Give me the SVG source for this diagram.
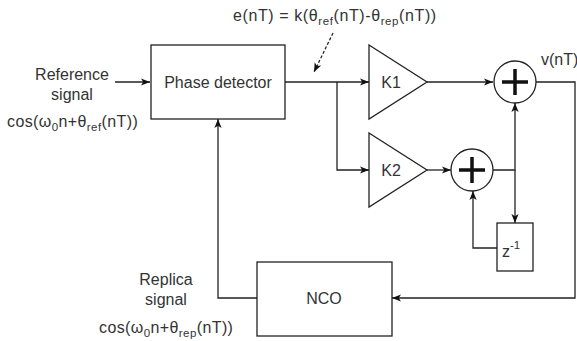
<svg xmlns="http://www.w3.org/2000/svg" width="577" height="341" viewBox="0 0 577 341">
<style>
.ln{fill:none;stroke:#222;stroke-width:1.3}
.box{fill:#fff;stroke:#222;stroke-width:1.3}
.t{font-family:"Liberation Sans",Arial,sans-serif;font-size:16px;fill:#333}
.c{text-anchor:middle}
.f{letter-spacing:0.4px}
.plus{stroke:#111;stroke-width:3.5;fill:none}
</style>
<defs>
<marker id="arr" viewBox="0 0 10 10" refX="10" refY="5" markerWidth="9" markerHeight="9" markerUnits="userSpaceOnUse" orient="auto">
<path d="M0,1 L10,5 L0,9 L2.5,5 z" fill="#111"/>
</marker>
</defs>
<rect width="577" height="341" fill="#fff"/>
<g id="connectors">
<path class="ln" d="M115,82 H150" marker-end="url(#arr)"/>
<path class="ln" d="M285,82 H369" marker-end="url(#arr)"/>
<path class="ln" d="M337,82 V170 H369" marker-end="url(#arr)"/>
<path class="ln" d="M427,82 H493" marker-end="url(#arr)"/>
<path class="ln" d="M427,170 H451" marker-end="url(#arr)"/>
<path class="ln" d="M493,170 H515 V103" marker-end="url(#arr)"/>
<path class="ln" d="M515,170 V223" marker-end="url(#arr)"/>
<path class="ln" d="M497,248 H473 V191" marker-end="url(#arr)"/>
<path class="ln" d="M536,82 H575 V298 H392" marker-end="url(#arr)"/>
<path class="ln" d="M257,298 H218 V119" marker-end="url(#arr)"/>
<path class="ln" d="M333,33 L314,72" stroke-dasharray="3,2" marker-end="url(#arr)"/>
</g>
<g id="ref-label">
<text class="t c" x="72" y="80">Reference</text>
<text class="t c" x="72" y="100">signal</text>
<text class="t f" x="7" y="127">cos(ω<tspan font-size="11.5" dy="4">0</tspan><tspan dy="-4">n+θ</tspan><tspan font-size="11.5" dy="4">ref</tspan><tspan dy="-4">(nT))</tspan></text>
</g>
<g id="error-label">
<text class="t f" x="233" y="21" style="letter-spacing:0.6px">e(nT) = k(θ<tspan font-size="11.5" dy="4">ref</tspan><tspan dy="-4">(nT)-θ</tspan><tspan font-size="11.5" dy="4">rep</tspan><tspan dy="-4">(nT))</tspan></text>
</g>
<g id="phase-detector">
<rect class="box" x="151" y="45" width="134" height="74"/>
<text class="t c" x="218" y="88">Phase detector</text>
</g>
<g id="k1">
<path class="box" d="M369,45 L427,82 L369,119 Z"/>
<text class="t c" x="391" y="88">K1</text>
</g>
<g id="k2">
<path class="box" d="M369,133 L427,170 L369,207 Z"/>
<text class="t c" x="391" y="176">K2</text>
</g>
<g id="sum1">
<circle class="box" cx="515" cy="82" r="21"/>
<path class="plus" d="M502,82 H528 M515,69 V95"/>
</g>
<g id="sum2">
<circle class="box" cx="472" cy="170" r="21"/>
<path class="plus" d="M459,170 H485 M472,157 V183"/>
</g>
<g id="delay">
<rect class="box" x="497" y="223" width="36" height="48"/>
<text class="t" x="502" y="257">z<tspan font-size="11.5" dy="-8">-1</tspan></text>
</g>
<g id="v-label">
<text class="t" x="541" y="65">v(nT)</text>
</g>
<g id="nco">
<rect class="box" x="257" y="262" width="135" height="74"/>
<text class="t c" x="324" y="304">NCO</text>
</g>
<g id="rep-label">
<text class="t c" x="166" y="285">Replica</text>
<text class="t c" x="166" y="305">signal</text>
<text class="t f" x="99" y="333">cos(ω<tspan font-size="11.5" dy="4">0</tspan><tspan dy="-4">n+θ</tspan><tspan font-size="11.5" dy="4">rep</tspan><tspan dy="-4">(nT))</tspan></text>
</g>
</svg>
